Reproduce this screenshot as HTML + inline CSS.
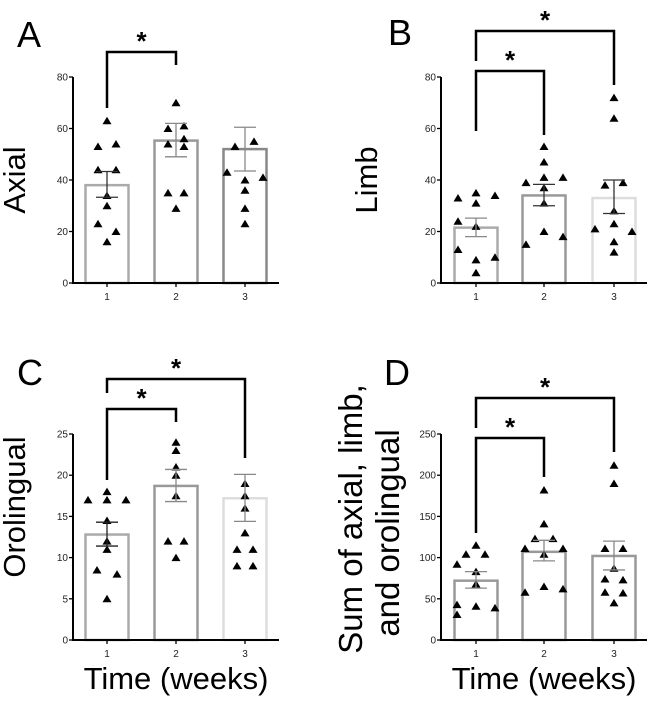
<!DOCTYPE html>
<html><head><meta charset="utf-8"><style>
body{margin:0;background:#fff;}
svg{display:block;font-family:"Liberation Sans",Arial,sans-serif;}
</style></head><body>
<svg id="fig" width="649" height="709" viewBox="0 0 649 709"></svg>
<script>
// Data arrays
const categories = ["1","2","3"];
const axialMeans = [38, 55.3, 52];
const axialErrLo = [33.3, 49, 43.5];
const axialErrHi = [43.3, 62, 60.5];
const axialPts1 = [63,53,54,44,44,34,30,23,20,16];
const axialPts2 = [70,60,61,54,56,53,35,35,29];
const axialPts3 = [53,55,43,41,40,36,29,23];
const limbMeans = [21.5, 34, 33];
const limbErrLo = [18, 30, 27];
const limbErrHi = [25.2, 38.3, 40];
const limbPts1 = [33,35,31,34,24,22,13,9,10,4];
const limbPts2 = [53,47,39,41,41,37,31,20,15,18];
const limbPts3 = [72,64,38,39,28,21,23,20,16,12];
const oroMeans = [12.8, 18.7, 17.2];
const oroErrLo = [11.4, 16.8, 14.4];
const oroErrHi = [14.3, 20.7, 20.1];
const oroPts1 = [17,18,17,17,14.5,12,11,8.5,8,5];
const oroPts2 = [24,23,21,20,17.5,12,12,10];
const oroPts3 = [19,17.5,16,13,11,11,9,9];
const sumMeans = [72, 107, 102];
const sumErrLo = [63, 96, 85];
const sumErrHi = [83, 121, 120];
const sumPts1 = [115,104,104,92,83,68,43,41,39,31];
const sumPts2 = [182,141,123,123,111,111,104,65,58,62];
const sumPts3 = [212,190,111,111,87,74,73,58,57,45];
const ticksA = [0,20,40,60,80];
const ticksC = [0,5,10,15,20,25];
const ticksD = [0,50,100,150,200,250];

// jitter layout (horizontal offsets, px) - layout only
const jA=[[0,-9,9,-9,9,0,0,-9,9,0],[0,-8,8,-8,8,8,-8,8,0],[-10,9,-18,18,0,0,0,0]];
const jB=[[-18,0,0,19,-18,0,-18,0,19,0],[0,0,-18,0,19,0,0,0,-18,19],[0,0,-9,9,0,-19,0,18,0,0]];
const jC=[[-19,0,0,19,0,0,0,-10,10,0],[0,0,0,0,0,-8,8,0],[0,0,0,0,-8,8,-8,8]];
const jD=[[0,-10,9,-19,0,0,-19,0,19,-19],[0,0,-9,9,-19,19,0,0,-19,19],[0,0,-9,9,0,-9,9,-9,9,0]];

const NS="http://www.w3.org/2000/svg";
const svg=document.getElementById('fig');
function mk(tag,attrs,parent){const e=document.createElementNS(NS,tag);for(const k in attrs)e.setAttribute(k,attrs[k]);(parent||svg).appendChild(e);return e;}
function txt(s,attrs,parent){const e=mk('text',attrs,parent);e.textContent=s;return e;}

function panel(o){
  const g=mk('g',{});
  
  
  const yS=v=>o.y0-(v/o.max)*(o.y0-o.yTop);
  const xS=i=>o.xs[i];
  o.means.forEach((m,i)=>{
    const r=mk('rect',{x:xS(i)-21.5,y:yS(m),width:43,height:o.y0-yS(m),fill:'none',stroke:o.barCols[i],'stroke-width':2.5},g);
    
    
  });
  o.pts.forEach((arr,i)=>{
    arr.forEach((v,k)=>{
      const cx=xS(i)+o.jit[i][k], cy=yS(v);
      const p=mk('path',{d:`M${cx-4.5},${cy+3.5}L${cx+4.5},${cy+3.5}L${cx},${cy-4}Z`,fill:'#000'},g);
      
      
    });
  });
  o.means.forEach((m,i)=>{
    const x=xS(i), lo=yS(o.lo[i]), hi=yS(o.hi[i]);
    const e=mk('path',{d:`M${x},${lo}L${x},${hi}M${x-11},${lo}L${x+11},${lo}M${x-11},${hi}L${x+11},${hi}`,stroke:o.errCols[i],'stroke-width':1.3,fill:'none'},g);
    
    
  });
  const ax=mk('path',{d:`M${o.x0},${o.yTop}L${o.x0},${o.y0}L${o.xEnd},${o.y0}`,stroke:'#000','stroke-width':2,fill:'none'},g);
  
  
  o.ticks.forEach(t=>{
    mk('line',{x1:o.x0-4,x2:o.x0,y1:yS(t),y2:yS(t),stroke:'#000','stroke-width':1.3},g);
    const l=txt(String(t),{x:o.x0-5,y:yS(t)+3.5,'font-size':10,'text-anchor':'end',fill:'#222'},g);
    
    
  });
  categories.forEach((c,i)=>{
    mk('line',{x1:xS(i),x2:xS(i),y1:o.y0,y2:o.y0+4,stroke:'#000','stroke-width':1.3},g);
    const l=txt(c,{x:xS(i),y:o.y0+17,'font-size':10,'text-anchor':'middle',fill:'#222'},g);
    
    
  });
  o.brackets.forEach(b=>{
    const p=mk('path',{d:`M${b.x1},${b.l}L${b.x1},${b.y}L${b.x2},${b.y}L${b.x2},${b.r}`,stroke:'#000','stroke-width':2.5,fill:'none'},g);
    
    
    const s=txt('*',{x:(b.x1+b.x2)/2,y:b.y-2,'font-size':26,'font-weight':'bold','text-anchor':'middle'},g);
    
    
  });
  const L=txt(o.letter,{x:o.lx,y:o.ly,'font-size':36},g);
  
  
  o.ylab.forEach(yl=>{
    const t=txt(yl.s,{x:0,y:0,'font-size':yl.fs||31,'text-anchor':'middle',transform:`translate(${yl.x},${yl.y}) rotate(-90)`},g);
    
    
  });
  if(o.xlab){
    const t=txt('Time (weeks)',{x:o.xlab,y:689,'font-size':31,'text-anchor':'middle'},g);
    
    
  }
}

panel({name:'axial',letter:'A',lx:17,ly:47,x0:73,xEnd:279,y0:283,yTop:77,max:80,xs:[107,176,245],
  means:axialMeans,lo:axialErrLo,hi:axialErrHi,pts:[axialPts1,axialPts2,axialPts3],jit:jA,ticks:ticksA,
  barCols:['#aaa','#999','#888'],errCols:['#333','#888','#888'],
  brackets:[{x1:107,x2:176,y:52,l:108,r:65}],ylab:[{s:'Axial',x:25,y:180}]});
panel({name:'limb',letter:'B',lx:388,ly:45,x0:441,xEnd:647,y0:283,yTop:77,max:80,xs:[476,544,614],
  means:limbMeans,lo:limbErrLo,hi:limbErrHi,pts:[limbPts1,limbPts2,limbPts3],jit:jB,ticks:ticksA,
  barCols:['#aaa','#999','#ddd'],errCols:['#888','#333','#333'],
  brackets:[{x1:476,x2:614,y:31,l:61,r:85},{x1:476,x2:544,y:71,l:131,r:135}],ylab:[{s:'Limb',x:377,y:180}]});
panel({name:'orolingual',letter:'C',lx:17,ly:385,x0:73,xEnd:279,y0:640,yTop:434,max:25,xs:[107,176,245],
  means:oroMeans,lo:oroErrLo,hi:oroErrHi,pts:[oroPts1,oroPts2,oroPts3],jit:jC,ticks:ticksC,
  barCols:['#aaa','#999','#ddd'],errCols:['#222','#888','#888'],
  brackets:[{x1:107,x2:245,y:379,l:393,r:458},{x1:107,x2:176,y:409,l:480,r:422}],ylab:[{s:'Orolingual',x:25,y:507}],xlab:176});
panel({name:'sum',letter:'D',lx:384,ly:385,x0:441,xEnd:647,y0:640,yTop:434,max:250,xs:[476,544,614],
  means:sumMeans,lo:sumErrLo,hi:sumErrHi,pts:[sumPts1,sumPts2,sumPts3],jit:jD,ticks:ticksD,
  barCols:['#999','#999','#999'],errCols:['#888','#888','#888'],
  brackets:[{x1:476,x2:614,y:398,l:428,r:452},{x1:476,x2:544,y:438,l:533,r:477}],
  ylab:[{s:'Sum of axial, limb,',x:362,y:519,fs:33},{s:'and orolingual',x:399,y:533,fs:33}],xlab:544});
</script>
</body></html>
